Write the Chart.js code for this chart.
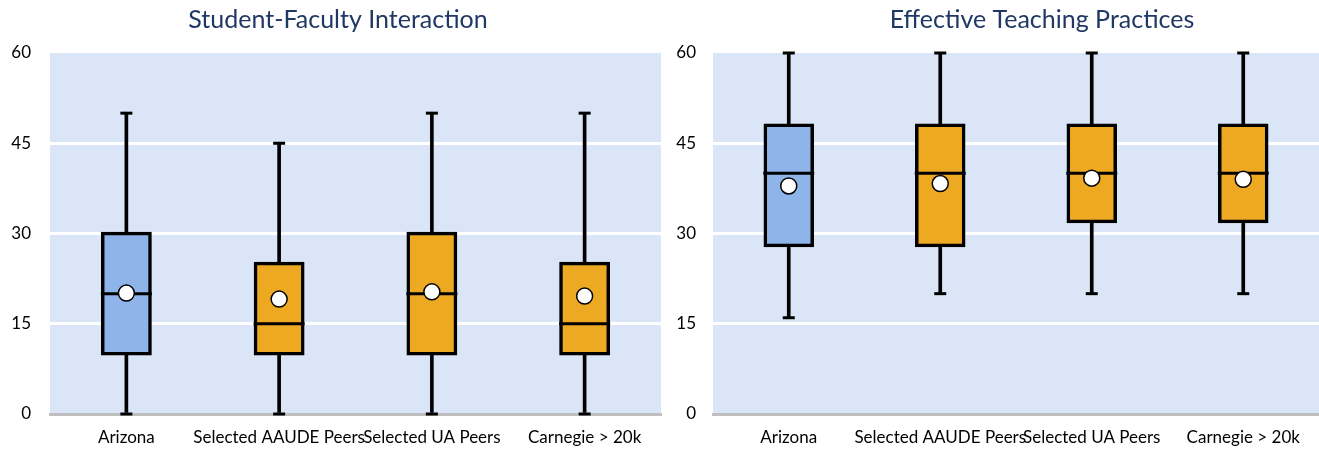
<!DOCTYPE html>
<html>
<head>
<meta charset="utf-8">
<script src="https://cdn.jsdelivr.net/npm/chart.js@4.4.1/dist/chart.umd.min.js"></script>
<style>
    body { margin: 0; background: #ffffff; }
    .grafico { position: absolute; top: 0; height: 449px; }
    #caixaEsq { left: 0; width: 665px; }
    #caixaDir { left: 665px; width: 654px; }
</style>
</head>
<body>
<div class="grafico" id="caixaEsq"><canvas id="graficoInteracao" width="665" height="449"></canvas></div>
<div class="grafico" id="caixaDir"><canvas id="graficoPraticas" width="654" height="449"></canvas></div>

<script>
const categorias = ['Arizona', 'Selected AAUDE Peers', 'Selected UA Peers', 'Carnegie > 20k'];
const coresCaixa = ['#8eb4e9', '#eea922', '#eea922', '#eea922'];
const ticksY = [0, 15, 30, 45, 60];

// Student-Faculty Interaction
const interacaoMin = [0, 0, 0, 0];
const interacaoQ1 = [10, 10, 10, 10];
const interacaoMediana = [20, 15, 20, 15];
const interacaoQ3 = [30, 25, 30, 25];
const interacaoMax = [50, 45, 50, 50];
const interacaoMedia = [20.1, 19.1, 20.3, 19.6];

// Effective Teaching Practices
const praticasMin = [16, 20, 20, 20];
const praticasQ1 = [28, 28, 32, 32];
const praticasMediana = [40, 40, 40, 40];
const praticasQ3 = [48, 48, 48, 48];
const praticasMax = [60, 60, 60, 60];
const praticasMedia = [37.9, 38.3, 39.2, 39.0];

const fonte = 'Lato, "Open Sans", sans-serif';

// pinta o fundo azul da área do gráfico e escreve o título
const fundoETitulo = {
    id: 'fundoETitulo',
    beforeDraw(chart, args, opts) {
        const a = chart.chartArea;
        const ctx = chart.ctx;
        ctx.save();
        ctx.fillStyle = '#dae5f7';
        ctx.fillRect(a.left, a.top, a.right - a.left, a.bottom - a.top);
        ctx.restore();
    },
    afterDraw(chart, args, opts) {
        const ctx = chart.ctx;
        ctx.save();
        ctx.fillStyle = '#203864';
        ctx.font = '25px ' + fonte;
        ctx.textAlign = 'center';
        ctx.textBaseline = 'middle';
        ctx.fillText(opts.texto, opts.x, 20);
        ctx.restore();
    }
};

function montarBoxplot(idCanvas, titulo, xTitulo, larguraY, folgaDireita, minimos, q1, medianas, q3, maximos, medias) {
    const ctx = document.getElementById(idCanvas).getContext('2d');

    const intervaloCaixa = q1.map(function (v, i) { return [v, q3[i]]; });
    const intervaloBigode = minimos.map(function (v, i) { return [v, maximos[i]]; });

    return new Chart(ctx, {
        type: 'bar',
        data: {
            labels: categorias,
            datasets: [
                {
                    // bigode inteiro, a caixa fica por cima
                    data: intervaloBigode,
                    backgroundColor: '#000000',
                    borderWidth: 0,
                    barThickness: 3,
                    grouped: false,
                    order: 5
                },
                {
                    data: intervaloCaixa,
                    backgroundColor: coresCaixa,
                    borderColor: '#000000',
                    borderWidth: 3.5,
                    borderSkipped: false,
                    inflateAmount: 1.75, // borda centrada no valor
                    categoryPercentage: 1,
                    barPercentage: 0.31,
                    grouped: false,
                    order: 4
                },
                {
                    type: 'line',
                    data: medianas,
                    showLine: false,
                    pointStyle: 'line',
                    pointRadius: 25.5,
                    pointBorderWidth: 3,
                    pointBorderColor: '#000000',
                    clip: false,
                    order: 3
                },
                {
                    type: 'line',
                    data: maximos,
                    showLine: false,
                    pointStyle: 'line',
                    pointRadius: 6,
                    pointBorderWidth: 3,
                    pointBorderColor: '#000000',
                    clip: false,
                    order: 3
                },
                {
                    type: 'line',
                    data: minimos,
                    showLine: false,
                    pointStyle: 'line',
                    pointRadius: 6,
                    pointBorderWidth: 3,
                    pointBorderColor: '#000000',
                    clip: false,
                    order: 3
                },
                {
                    type: 'line',
                    data: medias,
                    showLine: false,
                    pointStyle: 'circle',
                    pointRadius: 8,
                    pointBackgroundColor: '#ffffff',
                    pointBorderColor: '#000000',
                    pointBorderWidth: 1.5,
                    clip: false,
                    order: 1
                }
            ]
        },
        options: {
            responsive: false,
            animation: false,
            events: [],
            layout: {
                // sem autoPadding o raio da mediana não empurra a área
                autoPadding: false,
                padding: { top: 53, right: folgaDireita, bottom: 0, left: 0 }
            },
            plugins: {
                legend: { display: false },
                tooltip: { enabled: false },
                fundoETitulo: { texto: titulo, x: xTitulo }
            },
            scales: {
                x: {
                    z: 1,
                    grid: { display: false, drawTicks: false },
                    border: { display: true, color: '#bfbfbf', width: 3 },
                    ticks: {
                        color: '#000000',
                        font: { family: fonte, size: 17 },
                        padding: 13,
                        maxRotation: 0,
                        autoSkip: false
                    },
                    afterFit: function (escala) {
                        escala.height = 35;
                        escala.paddingLeft = 0;
                        escala.paddingRight = 0;
                    }
                },
                y: {
                    min: 0,
                    max: 60,
                    afterBuildTicks: function (escala) {
                        escala.ticks = ticksY.map(function (v) { return { value: v }; });
                    },
                    grid: {
                        drawTicks: false,
                        lineWidth: 3,
                        color: function (c) {
                            if (c.tick && (c.tick.value === 0 || c.tick.value === 60)) return 'rgba(0,0,0,0)';
                            return '#ffffff';
                        }
                    },
                    border: { display: false },
                    ticks: {
                        color: '#000000',
                        font: { family: fonte, size: 17 },
                        padding: larguraY - 31
                    },
                    afterFit: function (escala) { escala.width = larguraY; }
                }
            }
        },
        plugins: [fundoETitulo]
    });
}

montarBoxplot('graficoInteracao', 'Student-Faculty Interaction', 338, 50, 4,
    interacaoMin, interacaoQ1, interacaoMediana, interacaoQ3, interacaoMax, interacaoMedia);

montarBoxplot('graficoPraticas', 'Effective Teaching Practices', 377, 48, 0,
    praticasMin, praticasQ1, praticasMediana, praticasQ3, praticasMax, praticasMedia);
</script>
</body>
</html>
